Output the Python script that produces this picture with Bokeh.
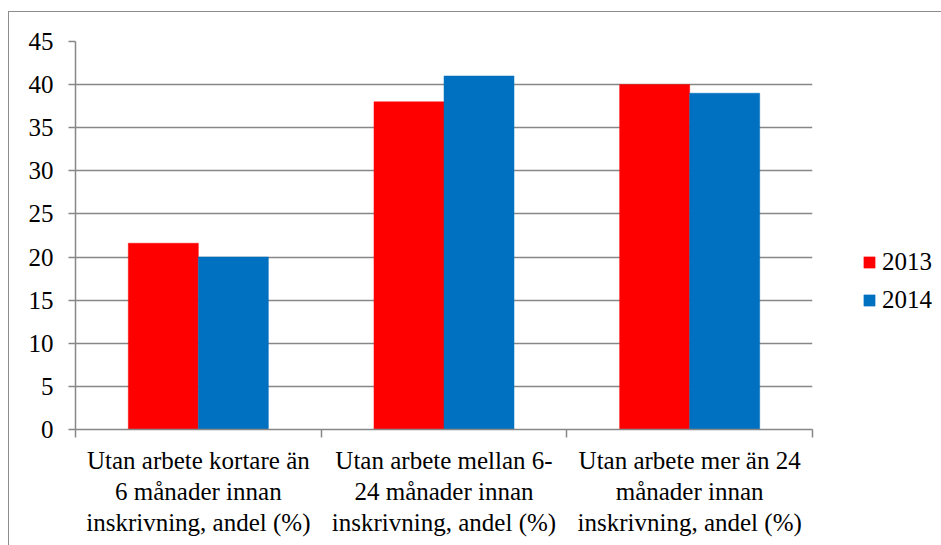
from bokeh.plotting import figure
from bokeh.models import (ColumnDataSource, FactorRange, LinearAxis, FixedTicker,
                          Legend, LegendItem, Range1d)
from bokeh.transform import dodge
from bokeh.embed import file_html
from bokeh.resources import INLINE

categories = [
    "Utan arbete kortare än\n6 månader innan\ninskrivning, andel (%)",
    "Utan arbete mellan 6-\n24 månader innan\ninskrivning, andel (%)",
    "Utan arbete mer än 24\nmånader innan\ninskrivning, andel (%)",
]
years = ["2013", "2014"]
values_2013 = [21.6, 38, 40]
values_2014 = [20, 41, 39]
y_ticks = [0, 5, 10, 15, 20, 25, 30, 35, 40, 45]

FONT = "Liberation Serif"
FS = "25px"
GRID = "#878787"

source = ColumnDataSource(dict(cat=categories, y2013=values_2013, y2014=values_2014))

p = figure(
    x_range=FactorRange(*categories, range_padding=0),
    y_range=Range1d(0, 45),
    width=932, height=533,
    frame_width=737, frame_height=388,
    min_border_left=66, min_border_top=29, min_border_right=129, min_border_bottom=116,
    output_backend="svg", toolbar_location=None,
    x_axis_location=None,
)
p.outline_line_color = None
p.background_fill_color = "white"
p.border_fill_color = "white"

r1 = p.vbar(x=dodge("cat", -0.1425, range=p.x_range), top="y2013", width=0.285,
            source=source, fill_color="#FF0000", line_color="#FF0000", line_width=0.5)
r2 = p.vbar(x=dodge("cat", 0.1425, range=p.x_range), top="y2014", width=0.285,
            source=source, fill_color="#0070C0", line_color="#0070C0", line_width=0.5)

# y axis
ya = p.yaxis[0]
ya.ticker = FixedTicker(ticks=y_ticks)
ya.minor_tick_line_color = None
ya.major_tick_in = 0
ya.major_tick_out = 7
ya.major_tick_line_color = GRID
ya.major_tick_line_width = 1.5
ya.axis_line_color = GRID
ya.axis_line_width = 1.5
ya.major_label_text_font = FONT
ya.major_label_text_font_size = FS
ya.major_label_text_color = "black"
ya.major_label_standoff = 15

p.ygrid.ticker = FixedTicker(ticks=y_ticks)
p.ygrid.grid_line_color = GRID
p.ygrid.grid_line_width = 1.5
p.xgrid.grid_line_color = None

# x axis: labels at category centres, tick marks at category boundaries
centres = [i + 0.5 for i in range(len(categories))]
bounds = [float(i) for i in range(len(categories) + 1)]
xa = LinearAxis(
    ticker=FixedTicker(ticks=centres, minor_ticks=bounds),
    major_label_overrides={c: lab for c, lab in zip(centres, categories)},
)
xa.major_tick_in = 0
xa.major_tick_out = 0
xa.minor_tick_in = 0
xa.minor_tick_out = 8
xa.minor_tick_line_color = GRID
xa.minor_tick_line_width = 1.5
xa.axis_line_color = GRID
xa.axis_line_width = 1.5
xa.major_label_text_font = FONT
xa.major_label_text_font_size = FS
xa.major_label_text_color = "black"
xa.major_label_standoff = 9
xa.major_label_text_line_height = 1.16
p.add_layout(xa, "below")

legend = Legend(
    items=[LegendItem(label=years[0], renderers=[r1]),
           LegendItem(label=years[1], renderers=[r2])],
    location=(50, 114),
    padding=0, margin=0, spacing=8,
    glyph_width=14, glyph_height=14, label_height=30, label_standoff=6,
    label_text_font=FONT, label_text_font_size=FS, label_text_color="black",
    border_line_color=None, background_fill_alpha=0,
)
p.add_layout(legend, "right")

p.styles = {"margin-left": "8px", "margin-top": "11px",
            "border-left": "1px solid #8c8c8c", "border-top": "1px solid #8c8c8c"}

open("out.html", "w").write(file_html(p, INLINE))
